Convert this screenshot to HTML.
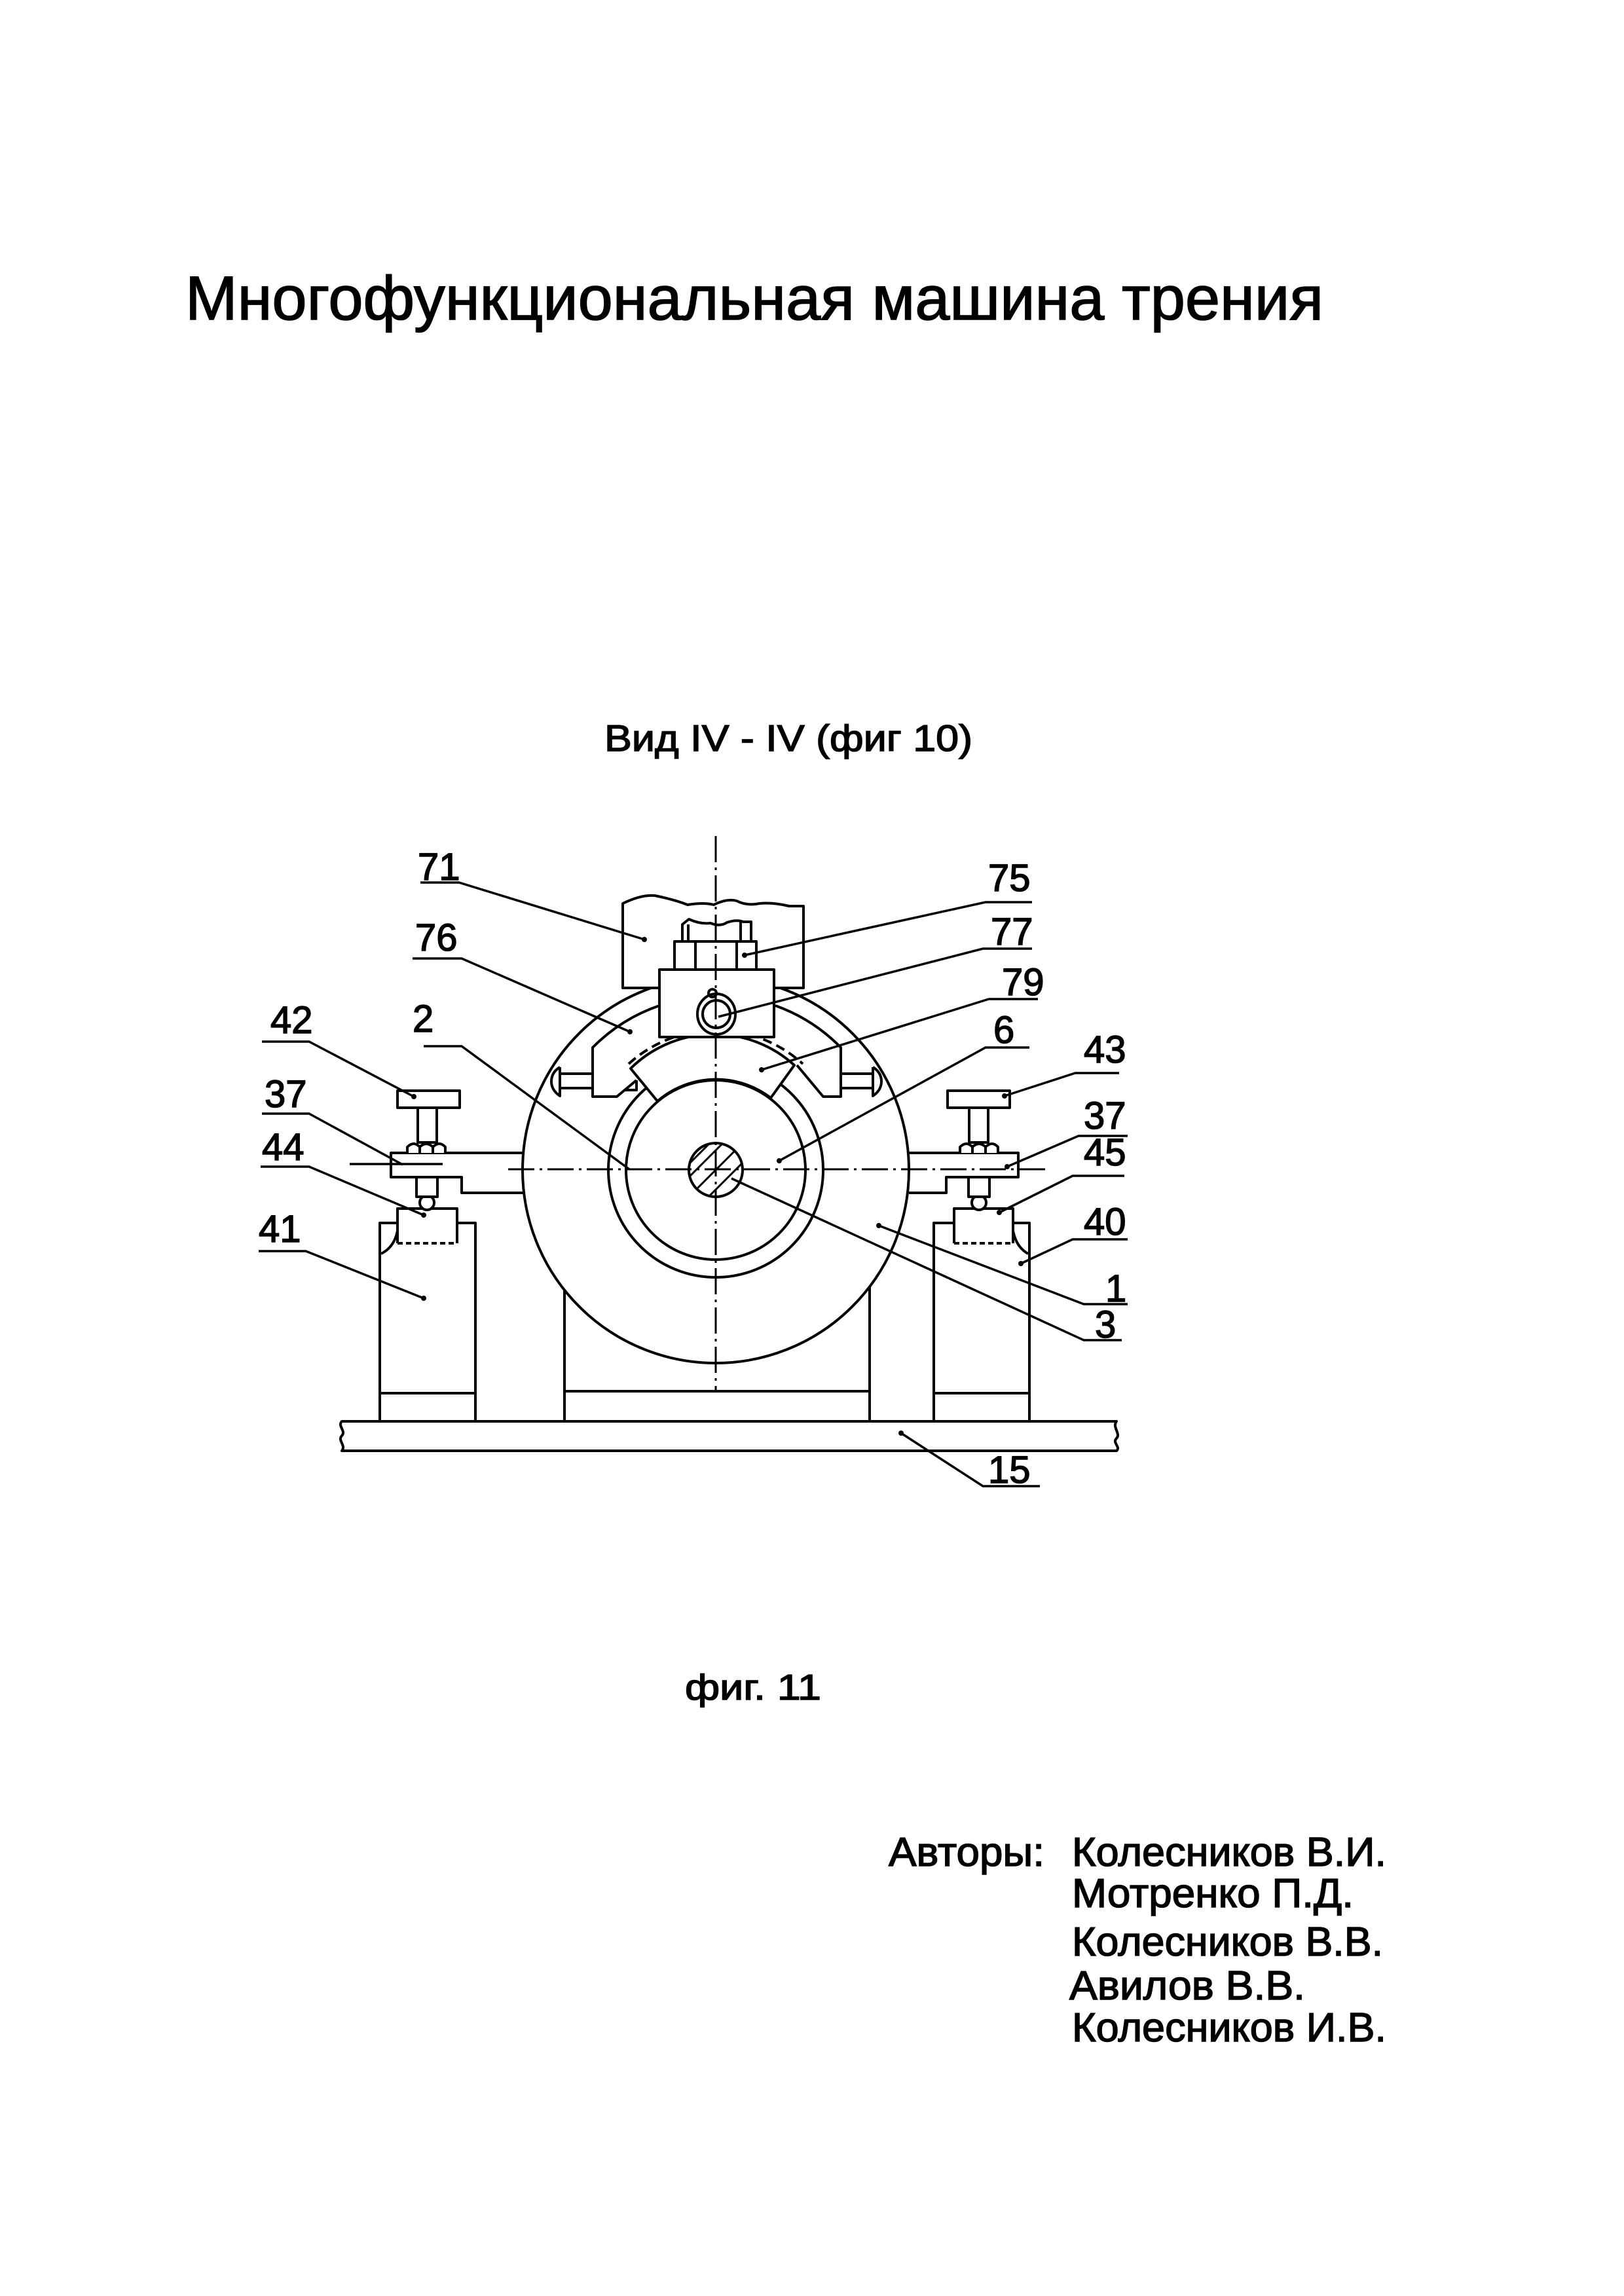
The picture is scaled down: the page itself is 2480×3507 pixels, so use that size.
<!DOCTYPE html>
<html><head><meta charset="utf-8"><style>
html,body{margin:0;padding:0;background:#fff}
svg{display:block}
text{font-family:"Liberation Sans",sans-serif;fill:#000;stroke:#000;stroke-width:1.5}
</style></head><body>
<svg width="2480" height="3507" viewBox="0 0 2480 3507" xmlns="http://www.w3.org/2000/svg">
<defs>
<clipPath id="sh"><circle cx="1093" cy="1787" r="41"/></clipPath>
</defs>
<text x="283" y="488" font-size="95" textLength="1738" lengthAdjust="spacingAndGlyphs">Многофункциональная машина трения</text>
<text x="923" y="1147" font-size="57" textLength="562" lengthAdjust="spacingAndGlyphs">Вид IV - IV (фиг 10)</text>
<text x="1046" y="2596" font-size="55" textLength="208" lengthAdjust="spacingAndGlyphs">фиг. 11</text>
<g font-size="62">
<text x="1357" y="2850" textLength="238" lengthAdjust="spacingAndGlyphs">Авторы:</text>
<text x="1637" y="2850" textLength="480" lengthAdjust="spacingAndGlyphs">Колесников В.И.</text>
<text x="1637" y="2913" textLength="430" lengthAdjust="spacingAndGlyphs">Мотренко П.Д.</text>
<text x="1637" y="2987" textLength="475" lengthAdjust="spacingAndGlyphs">Колесников В.В.</text>
<text x="1633" y="3054" textLength="360" lengthAdjust="spacingAndGlyphs">Авилов В.В.</text>
<text x="1637" y="3118" textLength="480" lengthAdjust="spacingAndGlyphs">Колесников И.В.</text>
</g>

<g fill="none" stroke="#000" stroke-width="4" stroke-linejoin="round">
<!-- base 15 -->
<path d="M522 2171 L1705 2171 C1698 2180 1712 2190 1705 2197 C1698 2204 1712 2210 1705 2216 L522 2216 C529 2208 515 2200 522 2193 C529 2186 515 2178 522 2171 Z" fill="#fff"/>
<!-- support -->
<path d="M862 1965 L862 2171 M1328 1965 L1328 2171 M862 2125 L1328 2125"/>
<!-- columns -->
<rect x="580" y="1868" width="146" height="303" fill="#fff"/>
<line x1="580" y1="2128" x2="726" y2="2128"/>
<rect x="1426" y="1868" width="146" height="303" fill="#fff"/>
<line x1="1426" y1="2128" x2="1572" y2="2128"/>
<!-- blocks 44/45 -->
<path d="M607 1899 L607 1846 L698 1846 L698 1899" fill="#fff"/>
<line x1="607" y1="1899" x2="698" y2="1899" stroke-dasharray="8 5"/>
<path d="M582 1915 Q602 1905 607 1880"/>
<path d="M1457 1899 L1457 1846 L1547 1846 L1547 1899" fill="#fff"/>
<line x1="1457" y1="1899" x2="1547" y2="1899" stroke-dasharray="8 5"/>
<path d="M1570 1915 Q1552 1905 1547 1880"/>
<!-- balls and stems -->
<circle cx="652" cy="1837" r="11" fill="#fff"/>
<rect x="636" y="1798" width="32" height="30" fill="#fff"/>
<circle cx="1495" cy="1837" r="11" fill="#fff"/>
<rect x="1479" y="1798" width="32" height="30" fill="#fff"/>
<!-- arms 37 -->
<path d="M800 1761 L597 1761 L597 1798 L705 1798 L705 1822 L800 1822" fill="#fff"/>
<path d="M1388 1761 L1555 1761 L1555 1798 L1445 1798 L1445 1822 L1388 1822" fill="#fff"/>
<!-- nuts -->
<path d="M622 1761 L622 1752 Q632 1742 641 1752 Q651 1742 661 1752 Q671 1742 680 1752 L680 1761 M641 1752 L641 1761 M661 1752 L661 1761" fill="#fff"/>
<path d="M1466 1761 L1466 1752 Q1476 1742 1485 1752 Q1495 1742 1505 1752 Q1515 1742 1524 1752 L1524 1761 M1485 1752 L1485 1761 M1505 1752 L1505 1761" fill="#fff"/>
<!-- stems top -->
<rect x="638" y="1692" width="29" height="53" fill="#fff"/>
<rect x="1480" y="1692" width="29" height="53" fill="#fff"/>
<!-- heads -->
<rect x="607" y="1666" width="95" height="26" fill="#fff"/>
<rect x="1447" y="1666" width="95" height="26" fill="#fff"/>
<!-- circle 1 -->
<circle cx="1093" cy="1787" r="295" fill="#fff"/>
<!-- ring 2 and 6 -->
<circle cx="1093" cy="1787" r="164"/>
<!-- shoe 79 (annular sector r137..182) -->
<path d="M963 1632 A182 182 0 0 1 1213 1627 L1177 1677 A137 137 0 0 0 1004 1682 Z" fill="#fff"/>
<circle cx="1093" cy="1787" r="137"/>
<!-- shaft 3 -->
<circle cx="1093" cy="1787" r="41"/>
<g clip-path="url(#sh)" stroke-width="3">
<path d="M1030 1800 L1100 1730 M1040 1810 L1110 1740 M1055 1825 L1125 1755 M1070 1840 L1140 1770 M1085 1855 L1155 1785 M1020 1785 L1090 1715"/>
</g>
<!-- pins -->
<path d="M855 1640 L905 1640 M855 1662 L905 1662 M855 1630 L855 1674 Q842 1665 842 1652 Q842 1638 855 1630" fill="#fff"/>
<path d="M1284 1640 L1333 1640 M1284 1662 L1333 1662 M1333 1630 L1333 1674 Q1346 1665 1346 1652 Q1346 1638 1333 1630" fill="#fff"/>
<!-- holder 76 -->
<path d="M1007 1536 A265 265 0 0 0 905 1600 L905 1675 L942 1675 L972 1650 M1184 1536 A265 265 0 0 1 1284 1600 L1284 1675 L1257 1675 L1217 1627"/>
<path d="M972 1650 L972 1665 L953 1665"/>
<path d="M960 1625 A198 198 0 0 1 1226 1625" stroke-dasharray="14 8"/>
<!-- 71 block -->
<path d="M951 1509 L951 1380 Q980 1366 1000 1368 Q1030 1374 1050 1382 Q1075 1378 1090 1382 Q1110 1372 1125 1376 Q1140 1384 1160 1380 Q1180 1378 1205 1384 L1227 1384 L1227 1509 Z" fill="#fff"/>
<!-- stud -->
<path d="M1042 1438 L1042 1412 L1052 1404 Q1070 1412 1085 1410 Q1100 1416 1110 1409 Q1125 1404 1135 1408 L1147 1408 L1147 1438" fill="#fff"/>
<path d="M1051 1412 L1051 1438 M1131 1408 L1131 1438"/>
<!-- nut 75 -->
<rect x="1030" y="1438" width="125" height="43" fill="#fff"/>
<path d="M1062 1438 L1062 1481 M1125 1438 L1125 1481"/>
<!-- box -->
<rect x="1007" y="1481" width="175" height="103" fill="#fff"/>
<ellipse cx="1094" cy="1549" rx="29" ry="31"/>
<circle cx="1094" cy="1549" r="21"/>
<circle cx="1088" cy="1517" r="6"/>
</g>
<!-- centerlines -->
<g stroke="#000" stroke-width="3" fill="none" stroke-dasharray="40 8 4 8">
<line x1="1093" y1="1277" x2="1093" y2="2125"/>
<line x1="776" y1="1786" x2="1601" y2="1786"/>
</g>
<line x1="534" y1="1778" x2="676" y2="1778" stroke="#000" stroke-width="3.5"/>
<!-- leaders -->
<g stroke="#000" stroke-width="3.5" fill="none">
<path d="M642 1348 L701 1348 L984 1435"/>
<path d="M1576 1378 L1505 1378 L1137 1459"/>
<path d="M1576 1449 L1501 1449 L1097 1553"/>
<path d="M1585 1526 L1510 1526 L1163 1634"/>
<path d="M1572 1600 L1505 1600 L1190 1773"/>
<path d="M1709 1639 L1642 1639 L1534 1674"/>
<path d="M1722 1735 L1647 1735 L1538 1782"/>
<path d="M1717 1796 L1638 1796 L1526 1852"/>
<path d="M1722 1893 L1638 1893 L1559 1930"/>
<path d="M1722 1992 L1655 1992 L1342 1872"/>
<path d="M1713 2047 L1655 2047 L1117 1800"/>
<path d="M1588 2270 L1501 2270 L1376 2189"/>
<path d="M630 1464 L705 1464 L962 1576"/>
<path d="M647 1598 L705 1598 L961 1786"/>
<path d="M400 1591 L472 1591 L632 1675"/>
<path d="M400 1701 L472 1701 L615 1779"/>
<path d="M398 1782 L472 1782 L647 1856"/>
<path d="M395 1911 L467 1911 L647 1983"/>
</g>
<g fill="#000">
<circle cx="984" cy="1435" r="4"/><circle cx="1137" cy="1459" r="4"/><circle cx="1163" cy="1634" r="4"/>
<circle cx="1190" cy="1773" r="4"/><circle cx="1534" cy="1674" r="4"/><circle cx="1538" cy="1782" r="4"/>
<circle cx="1526" cy="1852" r="4"/><circle cx="1559" cy="1930" r="4"/><circle cx="1342" cy="1872" r="4"/>
<circle cx="1376" cy="2189" r="4"/><circle cx="962" cy="1576" r="4"/><circle cx="632" cy="1675" r="4"/>
<circle cx="647" cy="1856" r="4"/><circle cx="647" cy="1983" r="4"/>
</g>
<!-- labels -->
<g font-size="58">
<text x="638" y="1344">71</text>
<text x="1509" y="1361">75</text>
<text x="1513" y="1443">77</text>
<text x="1530" y="1520">79</text>
<text x="1517" y="1593">6</text>
<text x="1655" y="1623">43</text>
<text x="1655" y="1724">37</text>
<text x="1655" y="1780">45</text>
<text x="1655" y="1886">40</text>
<text x="1688" y="1988">1</text>
<text x="1672" y="2043">3</text>
<text x="1509" y="2265">15</text>
<text x="634" y="1452">76</text>
<text x="630" y="1576">2</text>
<text x="413" y="1578">42</text>
<text x="404" y="1691">37</text>
<text x="400" y="1772">44</text>
<text x="395" y="1897">41</text>
</g>
</svg>
</body></html>
